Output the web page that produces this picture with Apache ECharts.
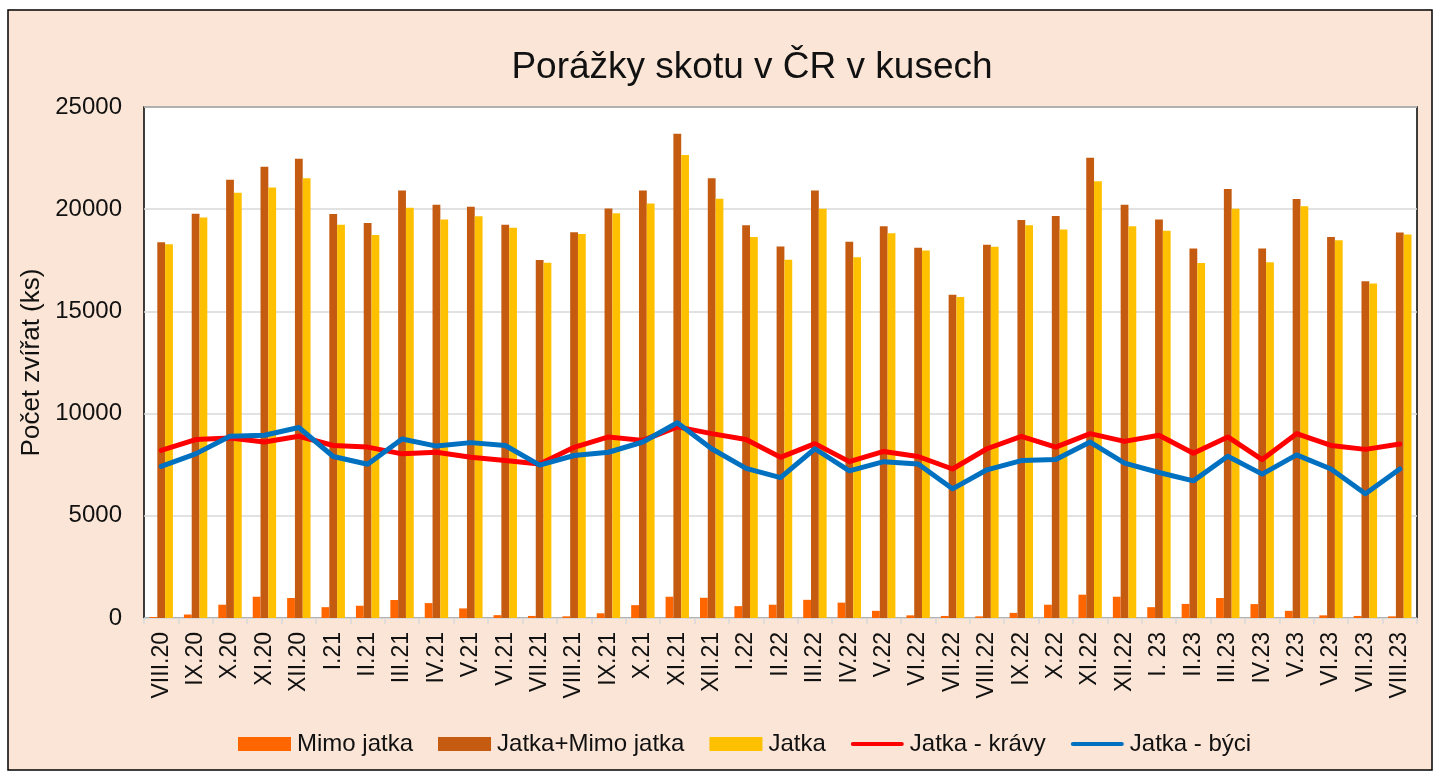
<!DOCTYPE html>
<html>
<head>
<meta charset="utf-8">
<script src="https://cdn.jsdelivr.net/npm/echarts@6/dist/echarts.min.js"></script>
<style>
  html, body { margin: 0; padding: 0; background: #fff; }
  #chart { width: 1440px; height: 772px; }
</style>
</head>
<body>
<div id="chart"></div>
<script>
const months = ['VIII.20', 'IX.20', 'X.20', 'XI.20', 'XII.20', 'I.21', 'II.21', 'III.21', 'IV.21', 'V.21',
  'VI.21', 'VII.21', 'VIII.21', 'IX.21', 'X.21', 'XI.21', 'XII.21', 'I.22', 'II.22', 'III.22', 'IV.22',
  'V.22', 'VI.22', 'VII.22', 'VIII.22', 'IX.22', 'X.22', 'XI.22', 'XII.22', 'I. 23', 'II.23', 'III.23',
  'IV.23', 'V.23', 'VI.23', 'VII.23', 'VIII.23']

// Mimo jatka
const outside = [50, 170, 650, 1040, 980, 530, 600, 880, 730, 470, 140, 100, 80, 230, 630, 1040, 990, 580,
  650, 890, 750, 350, 130, 100, 80, 250, 650, 1140, 1040, 530, 690, 980, 680, 350, 130, 100, 80]
// Jatka+Mimo jatka
const total = [18380, 19780, 21440, 22080, 22470, 19770, 19320, 20910, 20220, 20120, 19240, 17520, 18870,
  20030, 20910, 23690, 21510, 19210, 18180, 20910, 18410, 19170, 18110, 15810, 18260, 19470, 19670, 22520,
  20220, 19490, 18080, 20990, 18080, 20500, 18640, 16470, 18860]
// Jatka
const slaughter = [18280, 19590, 20810, 21060, 21510, 19240, 18740, 20070, 19500, 19650, 19090, 17380, 18790,
  19800, 20280, 22650, 20510, 18640, 17530, 20020, 17650, 18820, 17980, 15700, 18160, 19210, 19010, 21370,
  19170, 18940, 17370, 20020, 17400, 20150, 18480, 16360, 18760]
// Jatka - krávy
const cows = [8200, 8730, 8810, 8610, 8890, 8440, 8360, 8030, 8110, 7860, 7700, 7530, 8350, 8860, 8690, 9350,
  9020, 8730, 7860, 8530, 7650, 8150, 7900, 7290, 8280, 8890, 8360, 9020, 8640, 8940, 8060, 8860, 7750, 9020,
  8440, 8250, 8510]
// Jatka - býci
const bulls = [7420, 8030, 8890, 8940, 9320, 7900, 7520, 8760, 8410, 8580, 8440, 7480, 7950, 8110, 8610, 9550,
  8280, 7320, 6870, 8280, 7200, 7650, 7530, 6320, 7250, 7700, 7750, 8610, 7580, 7120, 6710, 7910, 7040, 7980,
  7290, 6080, 7290]

const FONT = '"Liberation Sans", Arial, sans-serif'
const LINE_ICON = 'path://M2,0 L48,0 A2,2 0 0 1 48,4 L2,4 A2,2 0 0 1 2,0 Z'

const chart = echarts.init(document.getElementById('chart'))

const barSeries = (name, data, color) => ({
  name: name,
  type: 'bar',
  data: data,
  barWidth: 7.8,
  barGap: '0%',
  itemStyle: { color: color },
  animation: false
})

const lineSeries = (name, data, color) => ({
  name: name,
  type: 'line',
  data: data,
  symbol: 'none',
  showSymbol: false,
  lineStyle: { color: color, width: 5, cap: 'round', join: 'round' },
  itemStyle: { color: color },
  z: 3,
  animation: false
})

const option = {
  backgroundColor: '#fff',
  graphic: [
    {
      type: 'rect',
      z: -10,
      shape: { x: 8, y: 10, width: 1424, height: 760 },
      style: { fill: '#FBE5D6', stroke: '#000', lineWidth: 1.5 }
    }
  ],
  title: {
    text: 'Porážky skotu v ČR v kusech',
    left: 747,
    top: 44,
    textAlign: 'center',
    textStyle: { fontFamily: FONT, fontSize: 37, fontWeight: 'normal', color: '#111' }
  },
  grid: {
    left: 144,
    right: 23,
    top: 107,
    bottom: 154,
    show: true,
    backgroundColor: '#fff',
    borderColor: '#000',
    borderWidth: 1.5
  },
  legend: {
    left: 233,
    top: 727,
    itemWidth: 53,
    itemHeight: 14,
    itemGap: 25,
    symbolKeepAspect: true,
    textStyle: { fontFamily: FONT, fontSize: 24, color: '#111', padding: [0, 0, 0, 1] },
    data: [
      { name: 'Mimo jatka', icon: 'rect' },
      { name: 'Jatka+Mimo jatka', icon: 'rect' },
      { name: 'Jatka', icon: 'rect' },
      { name: 'Jatka - krávy', icon: LINE_ICON },
      { name: 'Jatka - býci', icon: LINE_ICON }
    ]
  },
  xAxis: {
    type: 'category',
    data: months,
    axisLine: { show: true, lineStyle: { color: '#D9D9D9' } },
    axisTick: { show: true, length: 6, lineStyle: { color: '#D9D9D9', width: 1.5 } },
    axisLabel: {
      rotate: 90,
      interval: 0,
      margin: 14,
      fontFamily: FONT,
      fontSize: 23,
      color: '#111'
    }
  },
  yAxis: {
    type: 'value',
    min: 0,
    max: 25000,
    interval: 5000,
    name: 'Počet zvířat (ks)',
    nameLocation: 'middle',
    nameGap: 94,
    nameTextStyle: { fontFamily: FONT, fontSize: 26, color: '#111' },
    axisLine: { show: false },
    axisTick: { show: false },
    axisLabel: {
      margin: 22,
      fontFamily: FONT,
      fontSize: 24,
      color: '#111',
      formatter: (v) => String(v)
    },
    splitLine: { lineStyle: { color: '#D9D9D9', width: 1.5 } }
  },
  series: [
    barSeries('Mimo jatka', outside, '#FF6600'),
    barSeries('Jatka+Mimo jatka', total, '#C55A11'),
    barSeries('Jatka', slaughter, '#FFC000'),
    lineSeries('Jatka - krávy', cows, '#FF0000'),
    lineSeries('Jatka - býci', bulls, '#0070C0')
  ]
}

chart.setOption(option)
</script>
</body>
</html>
